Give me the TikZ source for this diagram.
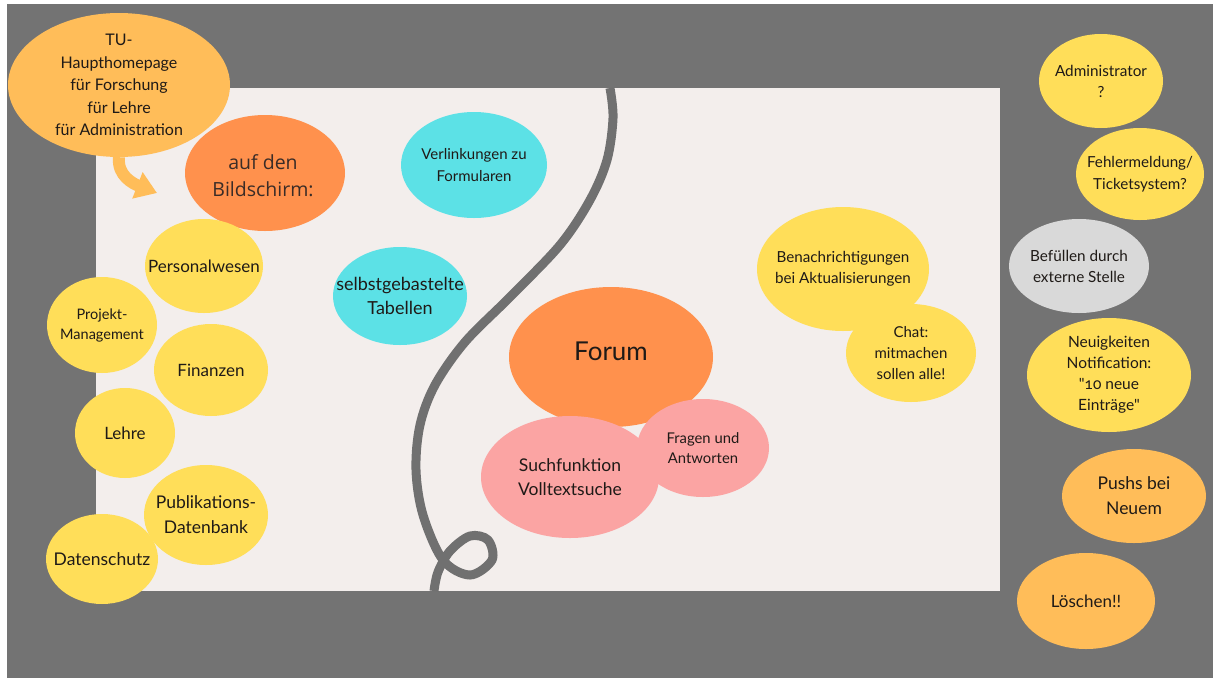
\documentclass[tikz,border=0pt]{standalone}
\usepackage{fontspec}
\setmainfont{Lato}
\newfontfamily\latoplain{Lato}
\newfontfamily\opensans{Open Sans}
\usetikzlibrary{shapes.geometric,arrows.meta}

\definecolor{frame}{HTML}{737373}
\definecolor{board}{HTML}{F3EEEC}
\definecolor{ink}{HTML}{1F1A17}
\definecolor{softink}{HTML}{3A2C27}
\definecolor{sun}{HTML}{FFDE59}
\definecolor{apricot}{HTML}{FFBD59}
\definecolor{tangerine}{HTML}{FF914D}
\definecolor{aqua}{HTML}{5CE1E6}
\definecolor{rose}{HTML}{FBA4A3}
\definecolor{mist}{HTML}{D9D9D9}
\definecolor{rope}{HTML}{707070}

\tikzset{
  blobshape/.style={ellipse, inner sep=0pt, draw=none},
  blobtext/.style={align=center, text=ink, inner sep=0pt},
}

% #1 name, #2 centre, #3 x radius, #4 y radius, #5 fill, #6 font size, #7 leading, #8 text
\newcommand\blob[8]{%
  \node[blobshape, fill=#5, minimum width=2*#3pt, minimum height=2*#4pt] (#1) at (#2) {};
  \node[blobtext, font=\fontsize{#6}{#7}\selectfont] (#1-text) at (#1) {#8};
}

\begin{document}
\begin{tikzpicture}[x=1pt, y=-1pt]
  \useasboundingbox (0,0) rectangle (1213,678);
  \fill[white] (0,0) rectangle (1213,678);
  \fill[frame] (7,4) rectangle (1213,678);
  \fill[board] (96,88) rectangle (1000,591);

  % dividing rope with its little loop
  \draw[rope, line width=9pt] plot[smooth, tension=0.55] coordinates {
    (610,88) (613,118) (607,160) (590,200) (560,245) (510,297) (465,342)
    (435,385) (420,425) (416,470) (423,515) (443,560) (470,575) (492,560)
    (488,540) (470,536) (450,551) (438,572) (434,591)};

  % main page and what it puts on the screen
  \blob{tu}{119,85}{111}{72}{apricot}{16}{22.5}{TU-\\Haupthomepage\\für Forschung\\für Lehre\\für Administration}
  \node[blobshape, fill=tangerine, minimum width=160pt, minimum height=116pt] (screen) at (265,173) {};
  \node[blobtext, text=softink, font=\opensans\fontsize{19.5}{27}\selectfont] (screen-text) at (263,176) {auf den\\Bildschirm:};

  \coordinate (tip) at (157,193);
  \draw[apricot, line width=12pt, -{Triangle[length=21pt, width=27pt]}]
    (tu.south) .. controls (117,176) and (134,184) .. (tip);

  % administrative topics
  \blob{pers}{204,266}{59}{47}{sun}{17}{23}{Personalwesen}
  \blob{proj}{102,325}{55}{48}{sun}{14.5}{20}{Projekt-\\Management}
  \blob{fin}{211,370}{57}{46}{sun}{17}{23}{Finanzen}
  \blob{lehre}{125,433}{50}{45}{sun}{17}{23}{Lehre}
  \blob{pub}{206,515}{62}{50}{sun}{17.5}{25}{Publikations-\\Datenbank}
  \blob{dsch}{102,559}{56}{45}{sun}{17.5}{23}{Datenschutz}

  % tools
  \blob{links}{474,165}{73}{53}{aqua}{15}{21.5}{Verlinkungen zu\\Formularen}
  \blob{tables}{400,296}{67}{49}{aqua}{18}{24.5}{selbstgebastelte\\Tabellen}

  % forum cluster
  \node[blobshape, fill=tangerine, minimum width=204pt, minimum height=140pt] (forum) at (611,357) {};
  \node[blobtext, font=\fontsize{26}{30}\selectfont] (forum-text) at (611,351) {Forum};
  \blob{search}{570,477}{89}{61}{rose}{17.5}{24.5}{Suchfunktion\\Volltextsuche}
  \blob{qa}{703,448}{66}{49}{rose}{14.8}{20.5}{Fragen und\\Antworten}

  % notifications
  \blob{notif}{843,269}{86}{62}{sun}{15.2}{21}{Benachrichtigungen\\bei Aktualisierungen}
  \blob{chat}{911,353}{65}{49}{sun}{15}{21}{Chat:\\mitmachen\\sollen alle!}

  % open questions outside the board
  \blob{admin}{1101,81}{62}{47}{sun}{15.3}{21}{Administrator\\?}
  \blob{error}{1140,174}{64}{46}{sun}{15.2}{21.5}{Fehlermeldung/\\Ticketsystem?}
  \blob{feed}{1079,266}{70}{47}{mist}{15.3}{21}{Befüllen durch\\externe Stelle}
  \blob{news}{1109,375}{82}{57}{sun}{15.5}{21}{Neuigkeiten\\Notification:\\{\latoplain"\addfontfeature{Numbers=OldStyle}10} neue\\Einträge{\latoplain"}}
  \blob{push}{1134,496}{72}{47}{apricot}{17.5}{25}{Pushs bei\\Neuem}
  \blob{delete}{1086,601}{69}{48}{apricot}{17}{23}{Löschen!!}
\end{tikzpicture}
\end{document}
